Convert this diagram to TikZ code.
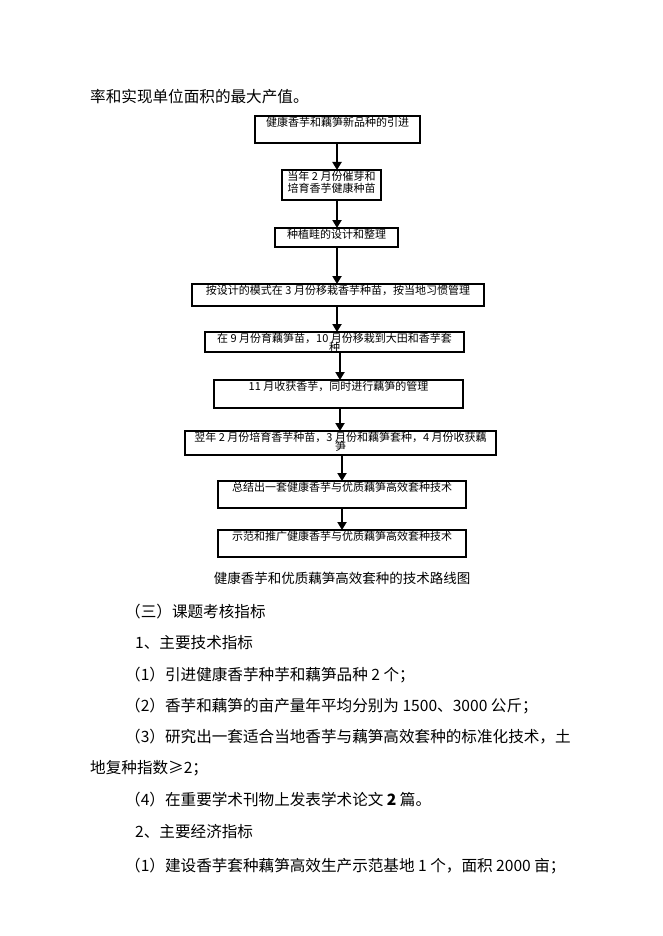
\documentclass[tikz,border=0pt]{standalone}
\usepackage{fontspec}
\setmainfont{Noto Sans CJK SC}
\usetikzlibrary{arrows.meta}
\begin{document}
\begin{tikzpicture}[x=1pt,y=-1pt,
 box/.style={draw,line width=1.6pt,inner sep=0pt},
 btxt/.style={anchor=north,inner sep=0pt,font=\fontsize{11}{11.5}\selectfont,align=center},
 body/.style={anchor=west,inner sep=0pt,font=\fontsize{15.6}{15.6}\selectfont},
 arr/.style={line width=2.6pt,-{Triangle[length=8pt,width=9pt]}}]
\useasboundingbox (0,0) rectangle (662,936);
\node[box,minimum width=165pt,minimum height=27pt] (b1) at (337.5,129.5) {};
\node[box,minimum width=99pt,minimum height=30pt] (b2) at (331.5,185) {};
\node[box,minimum width=123pt,minimum height=19pt] (b3) at (336.5,237.5) {};
\node[box,minimum width=292pt,minimum height=22pt] (b4) at (338,295) {};
\node[box,minimum width=259pt,minimum height=20pt] (b5) at (334.5,342) {};
\node[box,minimum width=249pt,minimum height=28pt] (b6) at (338.5,394) {};
\node[box,minimum width=311pt,minimum height=24pt] (b7) at (340.5,443) {};
\node[box,minimum width=248pt,minimum height=27pt] (b8) at (342,494.5) {};
\node[box,minimum width=248pt,minimum height=27pt] (b9) at (342,543.5) {};
\node[btxt] (t1) at ([yshift=-2pt]b1.north) {健康香芋和藕笋新品种的引进};
\node[btxt] (t2) at ([yshift=-2pt]b2.north) {当年 2 月份催芽和\\培育香芋健康种苗};
\node[btxt] (t3) at ([yshift=-2pt]b3.north) {种植畦的设计和整理};
\node[btxt] (t4) at ([yshift=-2pt]b4.north) {按设计的模式在 3 月份移栽香芋种苗，按当地习惯管理};
\node[btxt] (t5) at ([yshift=-2pt]b5.north) {在 9 月份育藕笋苗，10 月份移栽到大田和香芋套\\[-3pt]种};
\node[btxt] (t6) at ([yshift=-2pt]b6.north) {11 月收获香芋，同时进行藕笋的管理};
\node[btxt] (t7) at ([yshift=-2pt]b7.north) {翌年 2 月份培育香芋种苗，3 月份和藕笋套种，4 月份收获藕\\[-3pt]笋};
\node[btxt] (t8) at ([yshift=-2pt]b8.north) {总结出一套健康香芋与优质藕笋高效套种技术};
\node[btxt] (t9) at ([yshift=-2pt]b9.north) {示范和推广健康香芋与优质藕笋高效套种技术};
\draw[arr] (337,143) -- (337,170);
\draw[arr] (337,200) -- (337,228);
\draw[arr] (337,247) -- (337,284);
\draw[arr] (337,306) -- (337,332);
\draw[arr] (340,352) -- (340,380);
\draw[arr] (340,408) -- (340,431);
\draw[arr] (342,455) -- (342,481);
\draw[arr] (342,508) -- (342,530);
\node[font=\fontsize{13.5}{13.5}\selectfont,inner sep=0pt] (cap) at (342,578) {健康香芋和优质藕笋高效套种的技术路线图};
\node[body] (l0) at (90,97) {率和实现单位面积的最大产值。};
\node[body] (l1) at (125,612) {（三）课题考核指标};
\node[body] (l2) at (135,643) {1、主要技术指标};
\node[body] (l3) at (125,675) {（1）引进健康香芋种芋和藕笋品种 2 个；};
\node[body] (l4) at (125,706) {（2）香芋和藕笋的亩产量年平均分别为 1500、3000 公斤；};
\node[body] (l5) at (125,737) {（3）研究出一套适合当地香芋与藕笋高效套种的标准化技术，土};
\node[body] (l6) at (90,768) {地复种指数≥2；};
\node[body] (l7) at (125,800) {（4）在重要学术刊物上发表学术论文 \textbf{2} 篇。};
\node[body] (l8) at (135,832) {2、主要经济指标};
\node[body] (l9) at (125,866) {（1）建设香芋套种藕笋高效生产示范基地 1 个，面积 2000 亩；};
\end{tikzpicture}
\end{document}
